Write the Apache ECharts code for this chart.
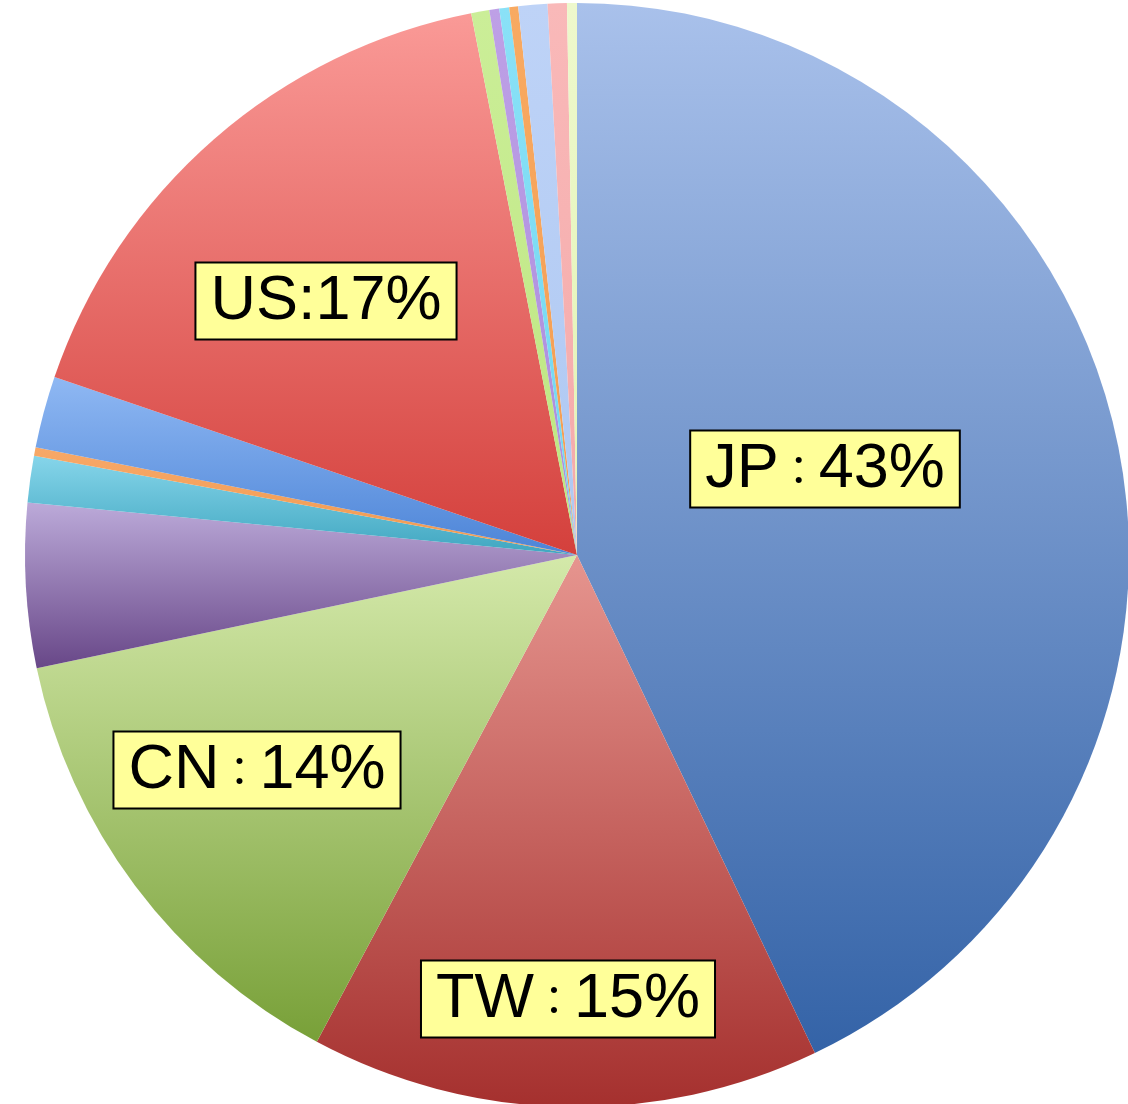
<!DOCTYPE html>
<html>
<head>
<meta charset="utf-8">
<script src="https://cdn.jsdelivr.net/npm/echarts@6/dist/echarts.min.js"></script>
<style>
html,body{margin:0;padding:0;background:#fff;}
#chart{width:1128px;height:1104px;}
</style>
</head>
<body>
<div id="chart"></div>
<script>
// Slice names, values (%) and label texts (clockwise from 12 o'clock)
const names = ['JP','TW','CN','Other A','Other B','Other C','Other D','US','Other E','Other F','Other G','Other H','Other I','Other J','Other K'];
const values = [42.9, 14.9, 13.9, 4.8, 1.36, 0.25, 2.1, 16.7, 0.53, 0.29, 0.29, 0.26, 0.85, 0.56, 0.29];
const labelTexts = ['JP：43%', 'TW：15%', 'CN：14%', '', '', '', '', 'US:17%', '', '', '', '', '', '', ''];
// gradient colours: [top, bottom]
const colors = [
  ['#a9c1eb', '#3463a7'],
  ['#e6958f', '#a5302e'],
  ['#d4e9aa', '#78a038'],
  ['#bcaad9', '#684788'],
  ['#86d5ea', '#3fa6c0'],
  ['#f7a868', '#f09a50'],
  ['#8fb8f3', '#4c84d7'],
  ['#fa9a97', '#d4403c'],
  ['#cbee98', '#bde680'],
  ['#bea0e6', '#a98cdb'],
  ['#8ae1f7', '#70d6f0'],
  ['#f8aa62', '#f49c50'],
  ['#bed3f7', '#aec8f2'],
  ['#f9b9b9', '#f4a9a9'],
  ['#eef8cc', '#e2f3b4']
];
// label anchor positions (pixels) for labelled slices
const labelPos = {0: [825, 469], 1: [568, 999], 2: [257, 770], 7: [326, 301]};

const chart = echarts.init(document.getElementById('chart'));
const data = names.map((n, i) => ({
  name: n,
  value: values[i],
  itemStyle: {
    color: new echarts.graphic.LinearGradient(0, 0, 0, 1, [
      {offset: 0, color: colors[i][0]},
      {offset: 1, color: colors[i][1]}
    ])
  },
  label: {show: labelTexts[i] !== ''}
}));

const FONT = "'Liberation Sans', Arial, 'Noto Sans CJK JP', sans-serif";

chart.setOption({
  animation: false,
  series: [{
    type: 'pie',
    center: [577, 555],
    radius: 552,
    startAngle: 90,
    clockwise: true,
    data: data,
    itemStyle: {borderWidth: 0},
    labelLine: {show: false},
    label: {
      position: 'inside',
      formatter: p => {
        const t = labelTexts[p.dataIndex];
        const k = t.indexOf('：');
        if (k < 0) return '{t|' + t + '}';
        return '{t|' + t.slice(0, k) + '}{c|：}{t|' + t.slice(k + 1) + '}';
      },
      backgroundColor: '#ffff99',
      borderColor: '#000',
      borderWidth: 2,
      padding: [3, 14, 2, 14],
      rich: {
        t: {color: '#000', fontSize: 63, fontFamily: FONT, lineHeight: 70, verticalAlign: 'middle'},
        c: {color: '#000', fontSize: 40, fontFamily: "'Noto Sans CJK JP', sans-serif", lineHeight: 70, verticalAlign: 'middle'}
      }
    },
    labelLayout: function (params) {
      const p = labelPos[params.dataIndex];
      if (!p) return {};
      return {x: p[0], y: p[1], align: 'center', verticalAlign: 'middle'};
    }
  }]
});
</script>
</body>
</html>
